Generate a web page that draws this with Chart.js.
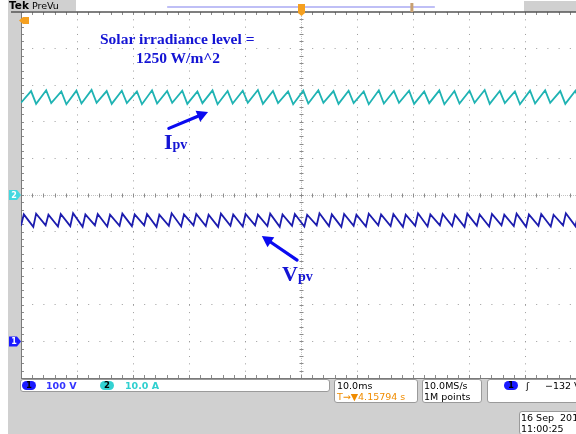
<!DOCTYPE html>
<html><head><meta charset="utf-8">
<script src="https://cdn.jsdelivr.net/npm/chart.js@4.4.1/dist/chart.umd.min.js"></script>
<style>
html,body{margin:0;padding:0;width:576px;height:434px;overflow:hidden;background:#fff;}
.bg{position:absolute;background:#d0d0d0;}
#wrap{position:absolute;left:0;top:0;width:600px;height:434px;z-index:1;}
.t{position:absolute;white-space:nowrap;font-family:"DejaVu Sans",sans-serif;font-size:9.5px;line-height:11px;z-index:2;}
.box{position:absolute;background:#fff;border:1px solid #9a9a9a;border-radius:3px;z-index:2;box-sizing:border-box;}
.pill{position:absolute;height:9px;border-radius:5px;font-family:"DejaVu Sans",sans-serif;font-size:8.5px;line-height:9px;text-align:center;font-weight:bold;z-index:3;}
.ann{position:absolute;white-space:nowrap;font-family:"Liberation Serif",serif;font-weight:bold;color:#1414d4;z-index:3;}
</style></head><body>
<div class="bg" style="left:8px;top:0;width:13px;height:434px;"></div>
<div class="bg" style="left:8px;top:379px;width:568px;height:55px;"></div>
<div class="bg" style="left:8px;top:0;width:68px;height:11px;"></div>
<div class="bg" style="left:524px;top:1px;width:52px;height:11px;"></div>
<div class="t" style="left:9px;top:0px;font-size:9.5px;"><b style="font-size:10.5px;">Tek</b> PreVu</div>
<div id="wrap"><canvas id="c" width="600" height="434"></canvas></div>

<div class="box" style="left:20px;top:379px;width:310px;height:13px;"></div>
<div class="pill" style="left:22px;top:381px;width:14px;background:#1a1aff;color:#000;">1</div>
<div class="t" style="left:46px;top:380px;color:#3434ff;font-weight:bold;">100 V</div>
<div class="pill" style="left:100px;top:381px;width:14px;background:#33d2d2;color:#000;">2</div>
<div class="t" style="left:125px;top:380px;color:#30d0d0;font-weight:bold;">10.0 A</div>

<div class="box" style="left:334px;top:379px;width:84px;height:24px;"></div>
<div class="t" style="left:337px;top:380px;color:#000;">10.0ms</div>
<div class="t" style="left:337px;top:391px;color:#f08c00;">T→▼4.15794 s</div>

<div class="box" style="left:422px;top:379px;width:60px;height:24px;"></div>
<div class="t" style="left:424px;top:380px;color:#000;">10.0MS/s</div>
<div class="t" style="left:424px;top:391px;color:#000;">1M points</div>

<div class="box" style="left:487px;top:379px;width:100px;height:24px;"></div>
<div class="pill" style="left:504px;top:381px;width:14px;background:#1a1aff;color:#000;">1</div>
<div class="t" style="left:526px;top:380px;color:#000;">ʃ</div>
<div class="t" style="left:545px;top:380px;color:#000;">−132 V</div>

<div class="box" style="left:519px;top:411px;width:70px;height:24px;"></div>
<div class="t" style="left:521px;top:412px;color:#000;">16 Sep&nbsp; 2015</div>
<div class="t" style="left:521px;top:423px;color:#000;">11:00:25</div>

<div class="ann" style="left:100px;top:30px;font-size:15.5px;">Solar irradiance level =</div>
<div class="ann" style="left:136px;top:49px;font-size:15.5px;">1250 W/m^2</div>
<div class="ann" style="left:164px;top:129px;font-size:22px;">I<span style="font-size:14px;">pv</span></div>
<div class="ann" style="left:282px;top:261px;font-size:22px;">V<span style="font-size:14px;">pv</span></div>

<script>
// Oscilloscope settings
const timeRange = [-50, 50];          // ms (10 ms/div, 10 divisions)
const ch1VoltsPerDiv = 100;           // V/div
const ch1Offset = -4;                 // divisions (ground marker)
const ch2AmpsPerDiv = 10;             // A/div
const ch2Offset = 0;                  // divisions

// Ipv (channel 2, A)
const ipvTime = [-50.0,-48.2,-47.3,-45.5,-44.6,-42.8,-41.9,-40.1,-39.2,-37.4,-36.5,-34.7,-33.8,-32.0,-31.1,-29.3,-28.4,-26.6,-25.7,-23.9,-23.0,-21.2,-20.3,-18.5,-17.6,-15.8,-14.9,-13.1,-12.2,-10.4,-9.5,-7.7,-6.8,-5.0,-4.1,-2.3,-1.4,0.4,1.3,3.1,4.0,5.8,6.7,8.5,9.4,11.2,12.1,13.9,14.8,16.6,17.5,19.3,20.2,22.0,22.9,24.7,25.6,27.4,28.3,30.1,31.0,32.8,33.7,35.5,36.4,38.2,39.1,40.9,41.8,43.6,44.5,46.3,47.2,49.0,49.9];
const ipvValue = [25.2,28.4,24.9,28.6,25.1,28.3,24.8,28.5,25.0,28.7,
 25.2,28.4,24.9,28.5,25.1,28.3,24.8,28.6,25.0,28.4,
 25.2,28.5,24.9,28.3,25.1,28.6,24.8,28.4,25.0,28.5,
 25.2,28.7,24.9,28.4,25.1,28.3,24.8,28.5,25.0,28.6,
 25.2,28.4,24.9,28.5,25.1,28.3,24.8,28.6,25.0,28.4,
 25.2,28.5,24.9,28.3,25.1,28.6,24.8,28.4,25.0,28.5,
 25.2,28.7,24.9,28.4,25.1,28.3,24.8,28.5,25.0,28.6,
 25.2,28.4,24.9,28.5,25.1];

// Vpv (channel 1, V)
const vpvTime = [-50.0,-49.5,-47.8,-47.3,-45.6,-45.1,-43.4,-42.9,-41.2,-40.7,-39.0,-38.5,-36.8,-36.3,-34.6,-34.1,-32.4,-31.9,-30.2,-29.7,-28.0,-27.5,-25.8,-25.3,-23.6,-23.1,-21.4,-20.9,-19.2,-18.7,-17.0,-16.5,-14.8,-14.3,-12.6,-12.1,-10.4,-9.9,-8.2,-7.7,-6.0,-5.5,-3.8,-3.3,-1.6,-1.1,0.6,1.1,2.8,3.3,5.0,5.5,7.2,7.7,9.4,9.9,11.6,12.1,13.8,14.3,16.0,16.5,18.2,18.7,20.4,20.9,22.6,23.1,24.8,25.3,27.0,27.5,29.2,29.7,31.4,31.9,33.6,34.1,35.8,36.3,38.0,38.5,40.2,40.7,42.4,42.9,44.6,45.1,46.8,47.3,49.0,49.5];
const vpvValue = [316,347,313,349,317,346,314,348,315,350,
 313,347,317,348,314,346,316,349,315,347,
 317,348,313,346,316,350,314,347,317,348,
 315,346,313,349,316,347,314,348,317,346,
 315,349,313,347,316,348,314,346,317,350,
 315,347,313,348,316,346,314,349,317,347,
 315,348,313,346,316,350,314,347,317,348,
 315,346,313,349,316,347,314,348,317,346,
 315,349,313,347,316,348,314,346,317,350,
 315,347];

// Annotation arrows (time ms, divisions)
const arrows = [
  {from:[-23.6,1.82], to:[-16.6,2.27]},
  {from:[-0.7,-1.78], to:[-7.0,-1.12]}
];

const pts = (ts, vs) => ts.map((t,i)=>({x:t, y:vs[i]}));

const scopePlugin = {
  id:'scope',
  beforeDatasetsDraw(chart){
    const {ctx, chartArea:ca, scales:{x, y}} = chart;
    const cx = Math.round(x.getPixelForValue(0))+0.5;
    const cy = Math.round(y.getPixelForValue(0))+0.5;
    ctx.save();
    ctx.strokeStyle='#c4c4c4'; ctx.lineWidth=1; ctx.setLineDash([1,1]);
    ctx.beginPath(); ctx.moveTo(cx,ca.top); ctx.lineTo(cx,ca.bottom); ctx.moveTo(ca.left,cy); ctx.lineTo(ca.right,cy); ctx.stroke();
    ctx.setLineDash([]);
    ctx.strokeStyle='#8c8c8c';
    ctx.beginPath();
    for(let i=-25;i<=25;i++){
      const px=Math.round(x.getPixelForValue(i*2))+0.5;
      ctx.moveTo(px,ca.top); ctx.lineTo(px,ca.top+3);
      ctx.moveTo(px,ca.bottom-3); ctx.lineTo(px,ca.bottom);
      ctx.moveTo(px,cy-2); ctx.lineTo(px,cy+2);
    }
    for(let j=-25;j<=25;j++){
      const py=Math.round(y.getPixelForValue(j*0.2))+0.5;
      ctx.moveTo(ca.left,py); ctx.lineTo(ca.left+3,py);
      ctx.moveTo(cx-2,py); ctx.lineTo(cx+2,py);
    }
    ctx.stroke();
    ctx.strokeStyle='#7a7a7a';
    ctx.beginPath();
    ctx.moveTo(ca.left+0.5,ca.top); ctx.lineTo(ca.left+0.5,ca.bottom);
    ctx.moveTo(ca.left,ca.bottom+0.5); ctx.lineTo(ca.right,ca.bottom+0.5);
    ctx.stroke();
    ctx.strokeStyle='#555'; ctx.lineWidth=1.5;
    ctx.beginPath(); ctx.moveTo(ca.left-10,ca.top); ctx.lineTo(ca.right,ca.top); ctx.stroke();
    ctx.strokeStyle='#8080ee'; ctx.lineWidth=1.2;
    ctx.beginPath(); ctx.moveTo(x.getPixelForValue(-23.9),ca.top-5); ctx.lineTo(x.getPixelForValue(23.9),ca.top-5); ctx.stroke();
    ctx.fillStyle='#c8a070'; ctx.fillRect(x.getPixelForValue(19.8)-1.5,ca.top-9,3,9);
    ctx.fillStyle='#f5a020';
    ctx.fillRect(cx-3.5,ca.top-8,7,9);
    ctx.beginPath(); ctx.moveTo(cx-3.5,ca.top+1); ctx.lineTo(cx+3.5,ca.top+1); ctx.lineTo(cx,ca.top+4); ctx.fill();
    ctx.beginPath(); ctx.moveTo(ca.left-2,ca.top+8.5); ctx.lineTo(ca.left+2,ca.top+5); ctx.lineTo(ca.left+8,ca.top+5); ctx.lineTo(ca.left+8,ca.top+12); ctx.lineTo(ca.left+2,ca.top+12); ctx.closePath(); ctx.fill();
    const g2 = y.getPixelForValue(ch2Offset), g1 = y.getPixelForValue(ch1Offset);
    ctx.fillStyle='#44d8e0';
    ctx.beginPath(); ctx.moveTo(ca.left-12,g2-5); ctx.lineTo(ca.left-4,g2-5); ctx.lineTo(ca.left,g2); ctx.lineTo(ca.left-4,g2+5); ctx.lineTo(ca.left-12,g2+5); ctx.closePath(); ctx.fill();
    ctx.fillStyle='#1a1aff';
    ctx.beginPath(); ctx.moveTo(ca.left-12,g1-5); ctx.lineTo(ca.left-4,g1-5); ctx.lineTo(ca.left,g1); ctx.lineTo(ca.left-4,g1+5); ctx.lineTo(ca.left-12,g1+5); ctx.closePath(); ctx.fill();
    ctx.font='bold 8px "DejaVu Sans"'; ctx.textAlign='center'; ctx.textBaseline='middle';
    ctx.fillStyle='#fff'; ctx.fillText('2',ca.left-7,g2+0.5); ctx.fillText('1',ca.left-7,g1+0.5);
    ctx.restore();
  },
  afterDatasetsDraw(chart){
    const {ctx, scales:{x, y}} = chart;
    ctx.save();
    ctx.strokeStyle='#0a0af0'; ctx.fillStyle='#0a0af0'; ctx.lineWidth=3.2; ctx.lineCap='round';
    arrows.forEach(a=>{
      const x1=x.getPixelForValue(a.from[0]), y1=y.getPixelForValue(a.from[1]);
      const x2=x.getPixelForValue(a.to[0]), y2=y.getPixelForValue(a.to[1]);
      const ang=Math.atan2(y2-y1,x2-x1), L=11, W=6;
      const bx=x2-L*Math.cos(ang), by=y2-L*Math.sin(ang);
      ctx.beginPath(); ctx.moveTo(x1,y1); ctx.lineTo(bx,by); ctx.stroke();
      ctx.beginPath(); ctx.moveTo(x2,y2);
      ctx.lineTo(bx+W*Math.sin(ang), by-W*Math.cos(ang));
      ctx.lineTo(bx-W*Math.sin(ang), by+W*Math.cos(ang));
      ctx.closePath(); ctx.fill();
    });
    ctx.restore();
  }
};

new Chart(document.getElementById('c'), {
  type:'line',
  data:{datasets:[
    {label:'Ipv', data:pts(ipvTime, ipvValue), yAxisID:'yI', borderColor:'#1fb3b3', borderWidth:1.8, pointRadius:0, tension:0},
    {label:'Vpv', data:pts(vpvTime, vpvValue), yAxisID:'yV', borderColor:'#1c1cae', borderWidth:1.8, pointRadius:0, tension:0}
  ]},
  options:{
    responsive:false, devicePixelRatio:1, animation:false,
    layout:{padding:{left:21, top:12, right:19, bottom:56}},
    plugins:{legend:{display:false}, tooltip:{enabled:false}},
    scales:{
      x:{type:'linear', min:timeRange[0], max:timeRange[1],
         ticks:{display:false, stepSize:10}, grid:{color:'#9c9c9c', drawTicks:false, lineWidth:1}, border:{display:false, dash:[1,6.32]}},
      y:{type:'linear', min:-5, max:5, position:'left',
         ticks:{display:false, stepSize:1}, grid:{color:'#9c9c9c', drawTicks:false, lineWidth:1}, border:{display:false, dash:[1,10.2]}},
      yV:{type:'linear', display:false, min:(-5-ch1Offset)*ch1VoltsPerDiv, max:(5-ch1Offset)*ch1VoltsPerDiv},
      yI:{type:'linear', display:false, min:(-5-ch2Offset)*ch2AmpsPerDiv, max:(5-ch2Offset)*ch2AmpsPerDiv}
    }
  },
  plugins:[scopePlugin]
});
</script>
</body></html>
